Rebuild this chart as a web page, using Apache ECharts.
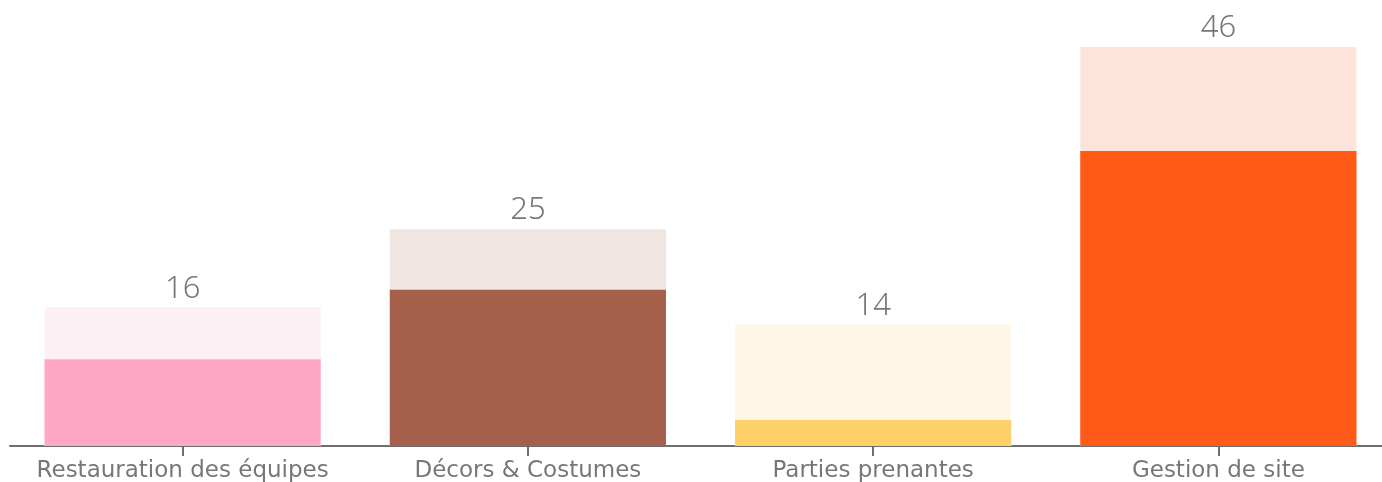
<!DOCTYPE html>
<html><head><meta charset="utf-8">
<script src="https://cdn.jsdelivr.net/npm/echarts@6/dist/echarts.min.js"></script>
<style>html,body{margin:0;padding:0;background:#fff}#c{width:1382px;height:482px}</style>
</head><body><div id="c"></div>
<script>
const categories = ['Restauration des équipes', 'Décors & Costumes', 'Parties prenantes', 'Gestion de site'];
const totalValues = [16, 25, 14, 46];
const partValues = [10, 18, 3, 34];
const lightColors = ['#fdf0f4', '#f0e6e1', '#fef7e8', '#fde4db'];
const darkColors = ['#ffa8c5', '#a5604b', '#ffd069', '#ff5a17'];

const chart = echarts.init(document.getElementById('c'));
chart.setOption({
  animation: false,
  grid: { left: 10, width: 1381, top: 47, bottom: 36, containLabel: false, outerBoundsMode: 'none' },
  xAxis: {
    type: 'category', data: categories,
    axisLine: { lineStyle: { color: '#6e6e6e', width: 2 } },
    axisTick: { show: true, alignWithLabel: true, length: 10, lineStyle: { color: '#6e6e6e', width: 2 },
      interval: 0 },
    axisLabel: { color: '#777', fontSize: 23, fontFamily: 'DejaVu Sans', margin: 14, interval: 0 }
  },
  yAxis: { type: 'value', min: 0, max: 46, show: false, splitLine: { show: false } },
  series: [
    {
      type: 'bar', barWidth: '80%', barGap: '-100%',
      data: totalValues.map((v, i) => ({ value: v, itemStyle: { color: lightColors[i] } })),
      label: { show: true, position: 'top', distance: 3, color: '#777', fontSize: 31, fontFamily: 'Noto Sans', fontWeight: 300 }
    },
    {
      type: 'bar', barWidth: '80%', barGap: '-100%',
      data: partValues.map((v, i) => ({ value: v, itemStyle: { color: darkColors[i] } }))
    }
  ]
});
</script></body></html>
